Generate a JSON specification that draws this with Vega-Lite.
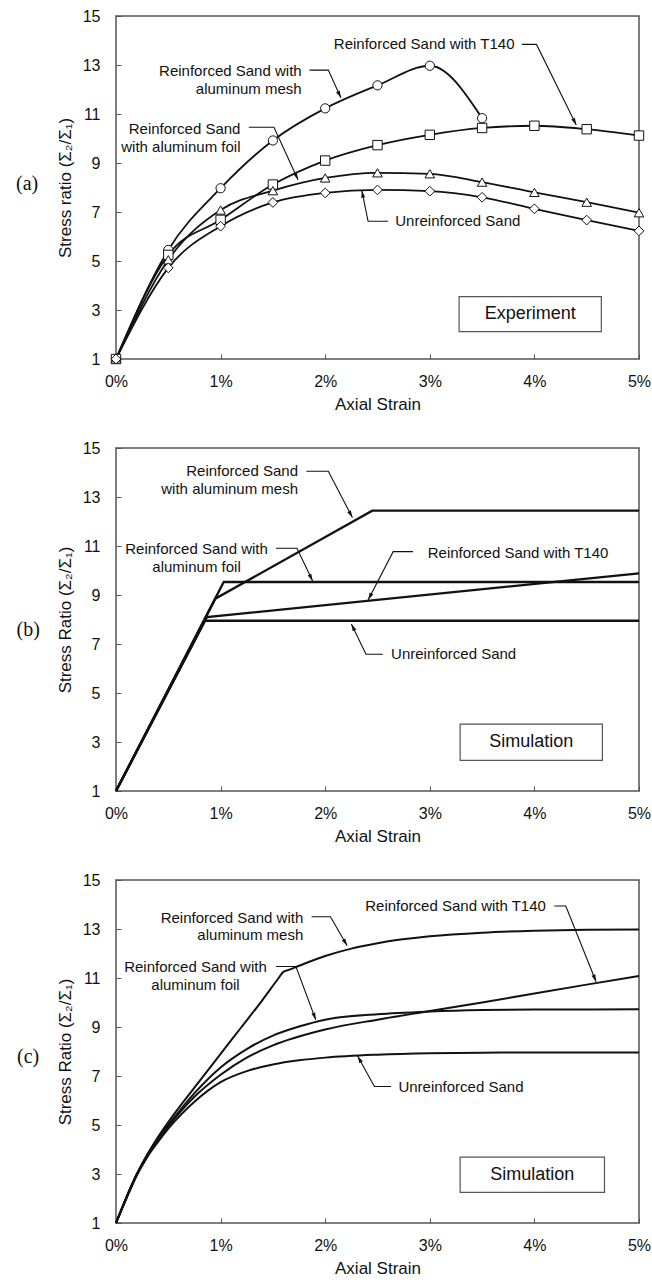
{
  "$schema": "https://vega.github.io/schema/vega-lite/v6.json",
  "padding": {"left": 15, "top": 7, "right": 3, "bottom": 0},
  "spacing": 26,
  "config": {
    "font": "Liberation Sans",
    "view": {"stroke": "#555", "strokeWidth": 1.5},
    "axis": {"grid": false, "domain": false, "ticks": true, "tickSize": -5, "tickColor": "#555", "tickWidth": 1, "labelFontSize": 16, "labelColor": "#111", "titleFontSize": 17, "titleFontWeight": "normal", "titleColor": "#111", "labelFlush": false, "labelFont": "Liberation Sans", "titleFont": "Liberation Sans"},
    "axisX": {"labelPadding": 19, "titlePadding": 7},
    "axisY": {"labelPadding": 21, "titlePadding": 8}
  },
  "datasets": {
    "expA": [
      {"s": "mesh", "strain": 0, "ratio": 1}, {"s": "mesh", "strain": 0.5, "ratio": 5.45}, {"s": "mesh", "strain": 1, "ratio": 7.97}, {"s": "mesh", "strain": 1.5, "ratio": 9.92}, {"s": "mesh", "strain": 2, "ratio": 11.23}, {"s": "mesh", "strain": 2.5, "ratio": 12.17}, {"s": "mesh", "strain": 3, "ratio": 12.97}, {"s": "mesh", "strain": 3.5, "ratio": 10.83},
      {"s": "t140", "strain": 0, "ratio": 1}, {"s": "t140", "strain": 0.5, "ratio": 5.25}, {"s": "t140", "strain": 1, "ratio": 6.68}, {"s": "t140", "strain": 1.5, "ratio": 8.12}, {"s": "t140", "strain": 2, "ratio": 9.1}, {"s": "t140", "strain": 2.5, "ratio": 9.73}, {"s": "t140", "strain": 3, "ratio": 10.15}, {"s": "t140", "strain": 3.5, "ratio": 10.43}, {"s": "t140", "strain": 4, "ratio": 10.52}, {"s": "t140", "strain": 4.5, "ratio": 10.38}, {"s": "t140", "strain": 5, "ratio": 10.12},
      {"s": "foil", "strain": 0, "ratio": 1}, {"s": "foil", "strain": 0.5, "ratio": 5.05}, {"s": "foil", "strain": 1, "ratio": 7.08}, {"s": "foil", "strain": 1.5, "ratio": 7.87}, {"s": "foil", "strain": 2, "ratio": 8.39}, {"s": "foil", "strain": 2.5, "ratio": 8.6}, {"s": "foil", "strain": 3, "ratio": 8.56}, {"s": "foil", "strain": 3.5, "ratio": 8.22}, {"s": "foil", "strain": 4, "ratio": 7.8}, {"s": "foil", "strain": 4.5, "ratio": 7.4}, {"s": "foil", "strain": 5, "ratio": 6.97},
      {"s": "unr", "strain": 0, "ratio": 1}, {"s": "unr", "strain": 0.5, "ratio": 4.72}, {"s": "unr", "strain": 1, "ratio": 6.42}, {"s": "unr", "strain": 1.5, "ratio": 7.39}, {"s": "unr", "strain": 2, "ratio": 7.78}, {"s": "unr", "strain": 2.5, "ratio": 7.9}, {"s": "unr", "strain": 3, "ratio": 7.85}, {"s": "unr", "strain": 3.5, "ratio": 7.6}, {"s": "unr", "strain": 4, "ratio": 7.13}, {"s": "unr", "strain": 4.5, "ratio": 6.67}, {"s": "unr", "strain": 5, "ratio": 6.23}
    ],
    "simB": [
      {"s": "unr", "strain": 0, "ratio": 1}, {"s": "unr", "strain": 0.85, "ratio": 7.95}, {"s": "unr", "strain": 5, "ratio": 7.95},
      {"s": "t140", "strain": 0, "ratio": 1}, {"s": "t140", "strain": 0.87, "ratio": 8.1}, {"s": "t140", "strain": 5, "ratio": 9.88},
      {"s": "foil", "strain": 0, "ratio": 1}, {"s": "foil", "strain": 1.03, "ratio": 9.53}, {"s": "foil", "strain": 5, "ratio": 9.53},
      {"s": "mesh", "strain": 0, "ratio": 1}, {"s": "mesh", "strain": 0.95, "ratio": 8.85}, {"s": "mesh", "strain": 2.45, "ratio": 12.44}, {"s": "mesh", "strain": 5, "ratio": 12.44}
    ],
    "simC": [
      {"s": "mesh", "strain": 0, "ratio": 1}, {"s": "mesh", "strain": 0.1, "ratio": 2.05}, {"s": "mesh", "strain": 0.2, "ratio": 3.0}, {"s": "mesh", "strain": 0.3, "ratio": 3.8}, {"s": "mesh", "strain": 0.4, "ratio": 4.5}, {"s": "mesh", "strain": 0.5, "ratio": 5.12}, {"s": "mesh", "strain": 0.6, "ratio": 5.7}, {"s": "mesh", "strain": 0.8, "ratio": 6.8}, {"s": "mesh", "strain": 1.0, "ratio": 7.9}, {"s": "mesh", "strain": 1.2, "ratio": 9.0}, {"s": "mesh", "strain": 1.4, "ratio": 10.1}, {"s": "mesh", "strain": 1.55, "ratio": 10.97}, {"s": "mesh", "strain": 1.6, "ratio": 11.25}, {"s": "mesh", "strain": 1.65, "ratio": 11.33}, {"s": "mesh", "strain": 1.75, "ratio": 11.5}, {"s": "mesh", "strain": 2.0, "ratio": 11.9}, {"s": "mesh", "strain": 2.25, "ratio": 12.2}, {"s": "mesh", "strain": 2.5, "ratio": 12.42}, {"s": "mesh", "strain": 3.0, "ratio": 12.7}, {"s": "mesh", "strain": 3.5, "ratio": 12.85}, {"s": "mesh", "strain": 4.0, "ratio": 12.93}, {"s": "mesh", "strain": 4.5, "ratio": 12.97}, {"s": "mesh", "strain": 5.0, "ratio": 12.98},
      {"s": "foil", "strain": 0, "ratio": 1}, {"s": "foil", "strain": 0.1, "ratio": 2.05}, {"s": "foil", "strain": 0.2, "ratio": 3.0}, {"s": "foil", "strain": 0.3, "ratio": 3.8}, {"s": "foil", "strain": 0.4, "ratio": 4.45}, {"s": "foil", "strain": 0.5, "ratio": 5.0}, {"s": "foil", "strain": 0.75, "ratio": 6.3}, {"s": "foil", "strain": 1.0, "ratio": 7.35}, {"s": "foil", "strain": 1.25, "ratio": 8.1}, {"s": "foil", "strain": 1.5, "ratio": 8.65}, {"s": "foil", "strain": 1.75, "ratio": 9.02}, {"s": "foil", "strain": 2.0, "ratio": 9.3}, {"s": "foil", "strain": 2.5, "ratio": 9.52}, {"s": "foil", "strain": 3.0, "ratio": 9.63}, {"s": "foil", "strain": 3.5, "ratio": 9.69}, {"s": "foil", "strain": 4.0, "ratio": 9.71}, {"s": "foil", "strain": 5.0, "ratio": 9.72},
      {"s": "t140", "strain": 0, "ratio": 1}, {"s": "t140", "strain": 0.1, "ratio": 2.05}, {"s": "t140", "strain": 0.2, "ratio": 3.0}, {"s": "t140", "strain": 0.3, "ratio": 3.75}, {"s": "t140", "strain": 0.4, "ratio": 4.4}, {"s": "t140", "strain": 0.5, "ratio": 4.95}, {"s": "t140", "strain": 0.75, "ratio": 6.15}, {"s": "t140", "strain": 1.0, "ratio": 7.05}, {"s": "t140", "strain": 1.25, "ratio": 7.75}, {"s": "t140", "strain": 1.5, "ratio": 8.25}, {"s": "t140", "strain": 2.0, "ratio": 8.9}, {"s": "t140", "strain": 2.5, "ratio": 9.3}, {"s": "t140", "strain": 3.0, "ratio": 9.65}, {"s": "t140", "strain": 3.5, "ratio": 10.0}, {"s": "t140", "strain": 4.0, "ratio": 10.37}, {"s": "t140", "strain": 4.5, "ratio": 10.73}, {"s": "t140", "strain": 5.0, "ratio": 11.08},
      {"s": "unr", "strain": 0, "ratio": 1}, {"s": "unr", "strain": 0.1, "ratio": 2.0}, {"s": "unr", "strain": 0.2, "ratio": 2.95}, {"s": "unr", "strain": 0.3, "ratio": 3.7}, {"s": "unr", "strain": 0.4, "ratio": 4.3}, {"s": "unr", "strain": 0.5, "ratio": 4.85}, {"s": "unr", "strain": 0.75, "ratio": 5.95}, {"s": "unr", "strain": 1.0, "ratio": 6.75}, {"s": "unr", "strain": 1.25, "ratio": 7.2}, {"s": "unr", "strain": 1.5, "ratio": 7.47}, {"s": "unr", "strain": 1.75, "ratio": 7.64}, {"s": "unr", "strain": 2.0, "ratio": 7.75}, {"s": "unr", "strain": 2.5, "ratio": 7.87}, {"s": "unr", "strain": 3.0, "ratio": 7.93}, {"s": "unr", "strain": 3.5, "ratio": 7.95}, {"s": "unr", "strain": 4.0, "ratio": 7.96}, {"s": "unr", "strain": 5.0, "ratio": 7.96}
    ],
    "leadA": [
      {"id": "t140", "seq": 1, "strain": 3.88, "ratio": 13.84}, {"id": "t140", "seq": 2, "strain": 4.02, "ratio": 13.84}, {"id": "t140", "seq": 3, "strain": 4.40, "ratio": 10.55},
      {"id": "mesh", "seq": 1, "strain": 1.85, "ratio": 12.79}, {"id": "mesh", "seq": 2, "strain": 2.03, "ratio": 12.79}, {"id": "mesh", "seq": 3, "strain": 2.15, "ratio": 11.66},
      {"id": "foil", "seq": 1, "strain": 1.27, "ratio": 10.46}, {"id": "foil", "seq": 2, "strain": 1.51, "ratio": 10.46}, {"id": "foil", "seq": 3, "strain": 1.74, "ratio": 8.32},
      {"id": "unr", "seq": 1, "strain": 2.6, "ratio": 6.62}, {"id": "unr", "seq": 2, "strain": 2.41, "ratio": 6.62}, {"id": "unr", "seq": 3, "strain": 2.35, "ratio": 7.88}
    ],
    "leadB": [
      {"id": "mesh", "seq": 1, "strain": 1.82, "ratio": 14.05}, {"id": "mesh", "seq": 2, "strain": 2.03, "ratio": 14.05}, {"id": "mesh", "seq": 3, "strain": 2.26, "ratio": 12.16},
      {"id": "foil", "seq": 1, "strain": 1.53, "ratio": 10.91}, {"id": "foil", "seq": 2, "strain": 1.73, "ratio": 10.91}, {"id": "foil", "seq": 3, "strain": 1.88, "ratio": 9.57},
      {"id": "t140", "seq": 1, "strain": 2.84, "ratio": 10.77}, {"id": "t140", "seq": 2, "strain": 2.65, "ratio": 10.77}, {"id": "t140", "seq": 3, "strain": 2.41, "ratio": 8.8},
      {"id": "unr", "seq": 1, "strain": 2.55, "ratio": 6.58}, {"id": "unr", "seq": 2, "strain": 2.39, "ratio": 6.58}, {"id": "unr", "seq": 3, "strain": 2.25, "ratio": 7.82}
    ],
    "leadC": [
      {"id": "t140", "seq": 1, "strain": 4.19, "ratio": 13.94}, {"id": "t140", "seq": 2, "strain": 4.30, "ratio": 13.94}, {"id": "t140", "seq": 3, "strain": 4.59, "ratio": 10.85},
      {"id": "mesh", "seq": 1, "strain": 1.87, "ratio": 13.5}, {"id": "mesh", "seq": 2, "strain": 2.05, "ratio": 13.5}, {"id": "mesh", "seq": 3, "strain": 2.21, "ratio": 12.32},
      {"id": "foil", "seq": 1, "strain": 1.53, "ratio": 11.47}, {"id": "foil", "seq": 2, "strain": 1.72, "ratio": 11.47}, {"id": "foil", "seq": 3, "strain": 1.91, "ratio": 9.29},
      {"id": "unr", "seq": 1, "strain": 2.63, "ratio": 6.57}, {"id": "unr", "seq": 2, "strain": 2.47, "ratio": 6.57}, {"id": "unr", "seq": 3, "strain": 2.31, "ratio": 7.82}
    ]
  },
  "vconcat": [
    {
      "width": 523, "height": 343,
      "encoding": {
        "x": {"field": "strain", "type": "quantitative", "scale": {"domain": [0, 5], "nice": false, "zero": false}, "axis": {"values": [0, 1, 2, 3, 4, 5], "labelExpr": "datum.value + '%'", "title": "Axial Strain"}},
        "y": {"field": "ratio", "type": "quantitative", "scale": {"domain": [1, 15], "nice": false, "zero": false}, "axis": {"values": [1, 3, 5, 7, 9, 11, 13, 15], "title": "Stress ratio (Σ₂/Σ₁)"}}
      },
      "layer": [
        {"data": {"name": "expA"}, "mark": {"type": "line", "color": "#111", "strokeWidth": 1.8, "interpolate": "monotone"}, "encoding": {"detail": {"field": "s"}}},
        {"data": {"name": "expA"}, "mark": {"type": "point", "filled": false, "fill": "white", "fillOpacity": 1, "stroke": "#111", "strokeWidth": 1, "opacity": 1}, "encoding": {"shape": {"field": "s", "type": "nominal", "scale": {"domain": ["mesh", "t140", "foil", "unr"], "range": ["circle", "square", "triangle-up", "diamond"]}, "legend": null}, "size": {"field": "s", "type": "nominal", "scale": {"domain": ["mesh", "t140", "foil", "unr"], "range": [85, 95, 60, 60]}, "legend": null}}},
        {"data": {"name": "leadA"}, "mark": {"type": "line", "color": "#111", "strokeWidth": 1.1}, "encoding": {"detail": {"field": "id"}, "order": {"field": "seq"}}},
        {"data": {"values": [{"strain": 4.40, "ratio": 10.55}]}, "mark": {"type": "point", "shape": "M0,0L0.5,1.8L-0.5,1.8Z", "filled": true, "color": "#111", "opacity": 1, "size": 64, "angle": 154}, "encoding": {}},
        {"data": {"values": [{"strain": 2.15, "ratio": 11.66}]}, "mark": {"type": "point", "shape": "M0,0L0.5,1.8L-0.5,1.8Z", "filled": true, "color": "#111", "opacity": 1, "size": 64, "angle": 155}, "encoding": {}},
        {"data": {"values": [{"strain": 1.74, "ratio": 8.32}]}, "mark": {"type": "point", "shape": "M0,0L0.5,1.8L-0.5,1.8Z", "filled": true, "color": "#111", "opacity": 1, "size": 64, "angle": 155}, "encoding": {}},
        {"data": {"values": [{"strain": 2.35, "ratio": 7.88}]}, "mark": {"type": "point", "shape": "M0,0L0.5,1.8L-0.5,1.8Z", "filled": true, "color": "#111", "opacity": 1, "size": 64, "angle": -11}, "encoding": {}},
        {"data": {"values": [{"strain": 3.28, "strain2": 4.64, "ratio": 2.12, "ratio2": 3.55}]}, "mark": {"type": "rect", "fill": "white", "stroke": "#555", "strokeWidth": 1.2}, "encoding": {"x2": {"field": "strain2"}, "y2": {"field": "ratio2"}}},
        {"data": {"values": [{"strain": 3.96, "ratio": 2.83, "label": "Experiment"}]}, "mark": {"type": "text", "fontSize": 18, "color": "#111", "align": "center", "baseline": "middle"}, "encoding": {"text": {"field": "label"}}},
        {"data": {"values": [
          {"strain": 3.81, "ratio": 13.84, "label": "Reinforced Sand with T140"},
          {"strain": 1.775, "ratio": 12.75, "label": "Reinforced Sand with"},
          {"strain": 1.775, "ratio": 12.04, "label": "aluminum mesh"},
          {"strain": 1.19, "ratio": 10.39, "label": "Reinforced Sand"},
          {"strain": 1.19, "ratio": 9.67, "label": "with aluminum foil"}
        ]}, "mark": {"type": "text", "fontSize": 15, "color": "#111", "align": "right", "baseline": "middle"}, "encoding": {"text": {"field": "label"}}},
        {"data": {"values": [{"strain": 2.67, "ratio": 6.62, "label": "Unreinforced Sand"}]}, "mark": {"type": "text", "fontSize": 15, "color": "#111", "align": "left", "baseline": "middle"}, "encoding": {"text": {"field": "label"}}},
        {"data": {"values": [{"strain": -0.85, "ratio": 8.14, "label": "(a)"}]}, "mark": {"type": "text", "fontSize": 20, "font": "Liberation Serif", "color": "#111", "align": "center", "baseline": "middle"}, "encoding": {"text": {"field": "label"}}}
      ]
    },
    {
      "width": 523, "height": 343,
      "encoding": {
        "x": {"field": "strain", "type": "quantitative", "scale": {"domain": [0, 5], "nice": false, "zero": false}, "axis": {"values": [0, 1, 2, 3, 4, 5], "labelExpr": "datum.value + '%'", "title": "Axial Strain"}},
        "y": {"field": "ratio", "type": "quantitative", "scale": {"domain": [1, 15], "nice": false, "zero": false}, "axis": {"values": [1, 3, 5, 7, 9, 11, 13, 15], "title": "Stress Ratio (Σ₂/Σ₁)"}}
      },
      "layer": [
        {"data": {"name": "simB"}, "mark": {"type": "line", "color": "#111", "strokeWidth": 2.3, "interpolate": "linear"}, "encoding": {"detail": {"field": "s"}}},
        {"data": {"name": "leadB"}, "mark": {"type": "line", "color": "#111", "strokeWidth": 1.1}, "encoding": {"detail": {"field": "id"}, "order": {"field": "seq"}}},
        {"data": {"values": [{"strain": 2.26, "ratio": 12.16}]}, "mark": {"type": "point", "shape": "M0,0L0.5,1.8L-0.5,1.8Z", "filled": true, "color": "#111", "opacity": 1, "size": 64, "angle": 152}, "encoding": {}},
        {"data": {"values": [{"strain": 1.88, "ratio": 9.57}]}, "mark": {"type": "point", "shape": "M0,0L0.5,1.8L-0.5,1.8Z", "filled": true, "color": "#111", "opacity": 1, "size": 64, "angle": 154}, "encoding": {}},
        {"data": {"values": [{"strain": 2.41, "ratio": 8.8}]}, "mark": {"type": "point", "shape": "M0,0L0.5,1.8L-0.5,1.8Z", "filled": true, "color": "#111", "opacity": 1, "size": 64, "angle": -152}, "encoding": {}},
        {"data": {"values": [{"strain": 2.25, "ratio": 7.82}]}, "mark": {"type": "point", "shape": "M0,0L0.5,1.8L-0.5,1.8Z", "filled": true, "color": "#111", "opacity": 1, "size": 64, "angle": -26}, "encoding": {}},
        {"data": {"values": [{"strain": 3.29, "strain2": 4.65, "ratio": 2.25, "ratio2": 3.73}]}, "mark": {"type": "rect", "fill": "white", "stroke": "#555", "strokeWidth": 1.2}, "encoding": {"x2": {"field": "strain2"}, "y2": {"field": "ratio2"}}},
        {"data": {"values": [{"strain": 3.97, "ratio": 2.98, "label": "Simulation"}]}, "mark": {"type": "text", "fontSize": 18, "color": "#111", "align": "center", "baseline": "middle"}, "encoding": {"text": {"field": "label"}}},
        {"data": {"values": [
          {"strain": 1.74, "ratio": 14.05, "label": "Reinforced Sand"},
          {"strain": 1.74, "ratio": 13.32, "label": "with aluminum mesh"}
        ]}, "mark": {"type": "text", "fontSize": 15, "color": "#111", "align": "right", "baseline": "middle"}, "encoding": {"text": {"field": "label"}}},
        {"data": {"values": [
          {"strain": 0.77, "ratio": 10.87, "label": "Reinforced Sand with"},
          {"strain": 0.77, "ratio": 10.13, "label": "aluminum foil"}
        ]}, "mark": {"type": "text", "fontSize": 15, "color": "#111", "align": "center", "baseline": "middle"}, "encoding": {"text": {"field": "label"}}},
        {"data": {"values": [
          {"strain": 2.98, "ratio": 10.73, "label": "Reinforced Sand with T140"},
          {"strain": 2.63, "ratio": 6.58, "label": "Unreinforced Sand"}
        ]}, "mark": {"type": "text", "fontSize": 15, "color": "#111", "align": "left", "baseline": "middle"}, "encoding": {"text": {"field": "label"}}},
        {"data": {"values": [{"strain": -0.84, "ratio": 7.57, "label": "(b)"}]}, "mark": {"type": "text", "fontSize": 20, "font": "Liberation Serif", "color": "#111", "align": "center", "baseline": "middle"}, "encoding": {"text": {"field": "label"}}}
      ]
    },
    {
      "width": 523, "height": 343,
      "encoding": {
        "x": {"field": "strain", "type": "quantitative", "scale": {"domain": [0, 5], "nice": false, "zero": false}, "axis": {"values": [0, 1, 2, 3, 4, 5], "labelExpr": "datum.value + '%'", "title": "Axial Strain"}},
        "y": {"field": "ratio", "type": "quantitative", "scale": {"domain": [1, 15], "nice": false, "zero": false}, "axis": {"values": [1, 3, 5, 7, 9, 11, 13, 15], "title": "Stress Ratio (Σ₂/Σ₁)"}}
      },
      "layer": [
        {"data": {"name": "simC"}, "mark": {"type": "line", "color": "#111", "strokeWidth": 2, "interpolate": "monotone"}, "encoding": {"detail": {"field": "s"}}},
        {"data": {"name": "leadC"}, "mark": {"type": "line", "color": "#111", "strokeWidth": 1.1}, "encoding": {"detail": {"field": "id"}, "order": {"field": "seq"}}},
        {"data": {"values": [{"strain": 4.59, "ratio": 10.85}]}, "mark": {"type": "point", "shape": "M0,0L0.5,1.8L-0.5,1.8Z", "filled": true, "color": "#111", "opacity": 1, "size": 64, "angle": 158}, "encoding": {}},
        {"data": {"values": [{"strain": 2.21, "ratio": 12.32}]}, "mark": {"type": "point", "shape": "M0,0L0.5,1.8L-0.5,1.8Z", "filled": true, "color": "#111", "opacity": 1, "size": 64, "angle": 150}, "encoding": {}},
        {"data": {"values": [{"strain": 1.91, "ratio": 9.29}]}, "mark": {"type": "point", "shape": "M0,0L0.5,1.8L-0.5,1.8Z", "filled": true, "color": "#111", "opacity": 1, "size": 64, "angle": 160}, "encoding": {}},
        {"data": {"values": [{"strain": 2.31, "ratio": 7.82}]}, "mark": {"type": "point", "shape": "M0,0L0.5,1.8L-0.5,1.8Z", "filled": true, "color": "#111", "opacity": 1, "size": 64, "angle": -29}, "encoding": {}},
        {"data": {"values": [{"strain": 3.29, "strain2": 4.67, "ratio": 2.25, "ratio2": 3.69}]}, "mark": {"type": "rect", "fill": "white", "stroke": "#555", "strokeWidth": 1.2}, "encoding": {"x2": {"field": "strain2"}, "y2": {"field": "ratio2"}}},
        {"data": {"values": [{"strain": 3.98, "ratio": 2.97, "label": "Simulation"}]}, "mark": {"type": "text", "fontSize": 18, "color": "#111", "align": "center", "baseline": "middle"}, "encoding": {"text": {"field": "label"}}},
        {"data": {"values": [
          {"strain": 4.11, "ratio": 13.94, "label": "Reinforced Sand with T140"},
          {"strain": 1.79, "ratio": 13.46, "label": "Reinforced Sand with"},
          {"strain": 1.79, "ratio": 12.74, "label": "aluminum mesh"}
        ]}, "mark": {"type": "text", "fontSize": 15, "color": "#111", "align": "right", "baseline": "middle"}, "encoding": {"text": {"field": "label"}}},
        {"data": {"values": [
          {"strain": 0.76, "ratio": 11.44, "label": "Reinforced Sand with"},
          {"strain": 0.76, "ratio": 10.72, "label": "aluminum foil"}
        ]}, "mark": {"type": "text", "fontSize": 15, "color": "#111", "align": "center", "baseline": "middle"}, "encoding": {"text": {"field": "label"}}},
        {"data": {"values": [{"strain": 2.70, "ratio": 6.57, "label": "Unreinforced Sand"}]}, "mark": {"type": "text", "fontSize": 15, "color": "#111", "align": "left", "baseline": "middle"}, "encoding": {"text": {"field": "label"}}},
        {"data": {"values": [{"strain": -0.84, "ratio": 7.78, "label": "(c)"}]}, "mark": {"type": "text", "fontSize": 20, "font": "Liberation Serif", "color": "#111", "align": "center", "baseline": "middle"}, "encoding": {"text": {"field": "label"}}}
      ]
    }
  ]
}
